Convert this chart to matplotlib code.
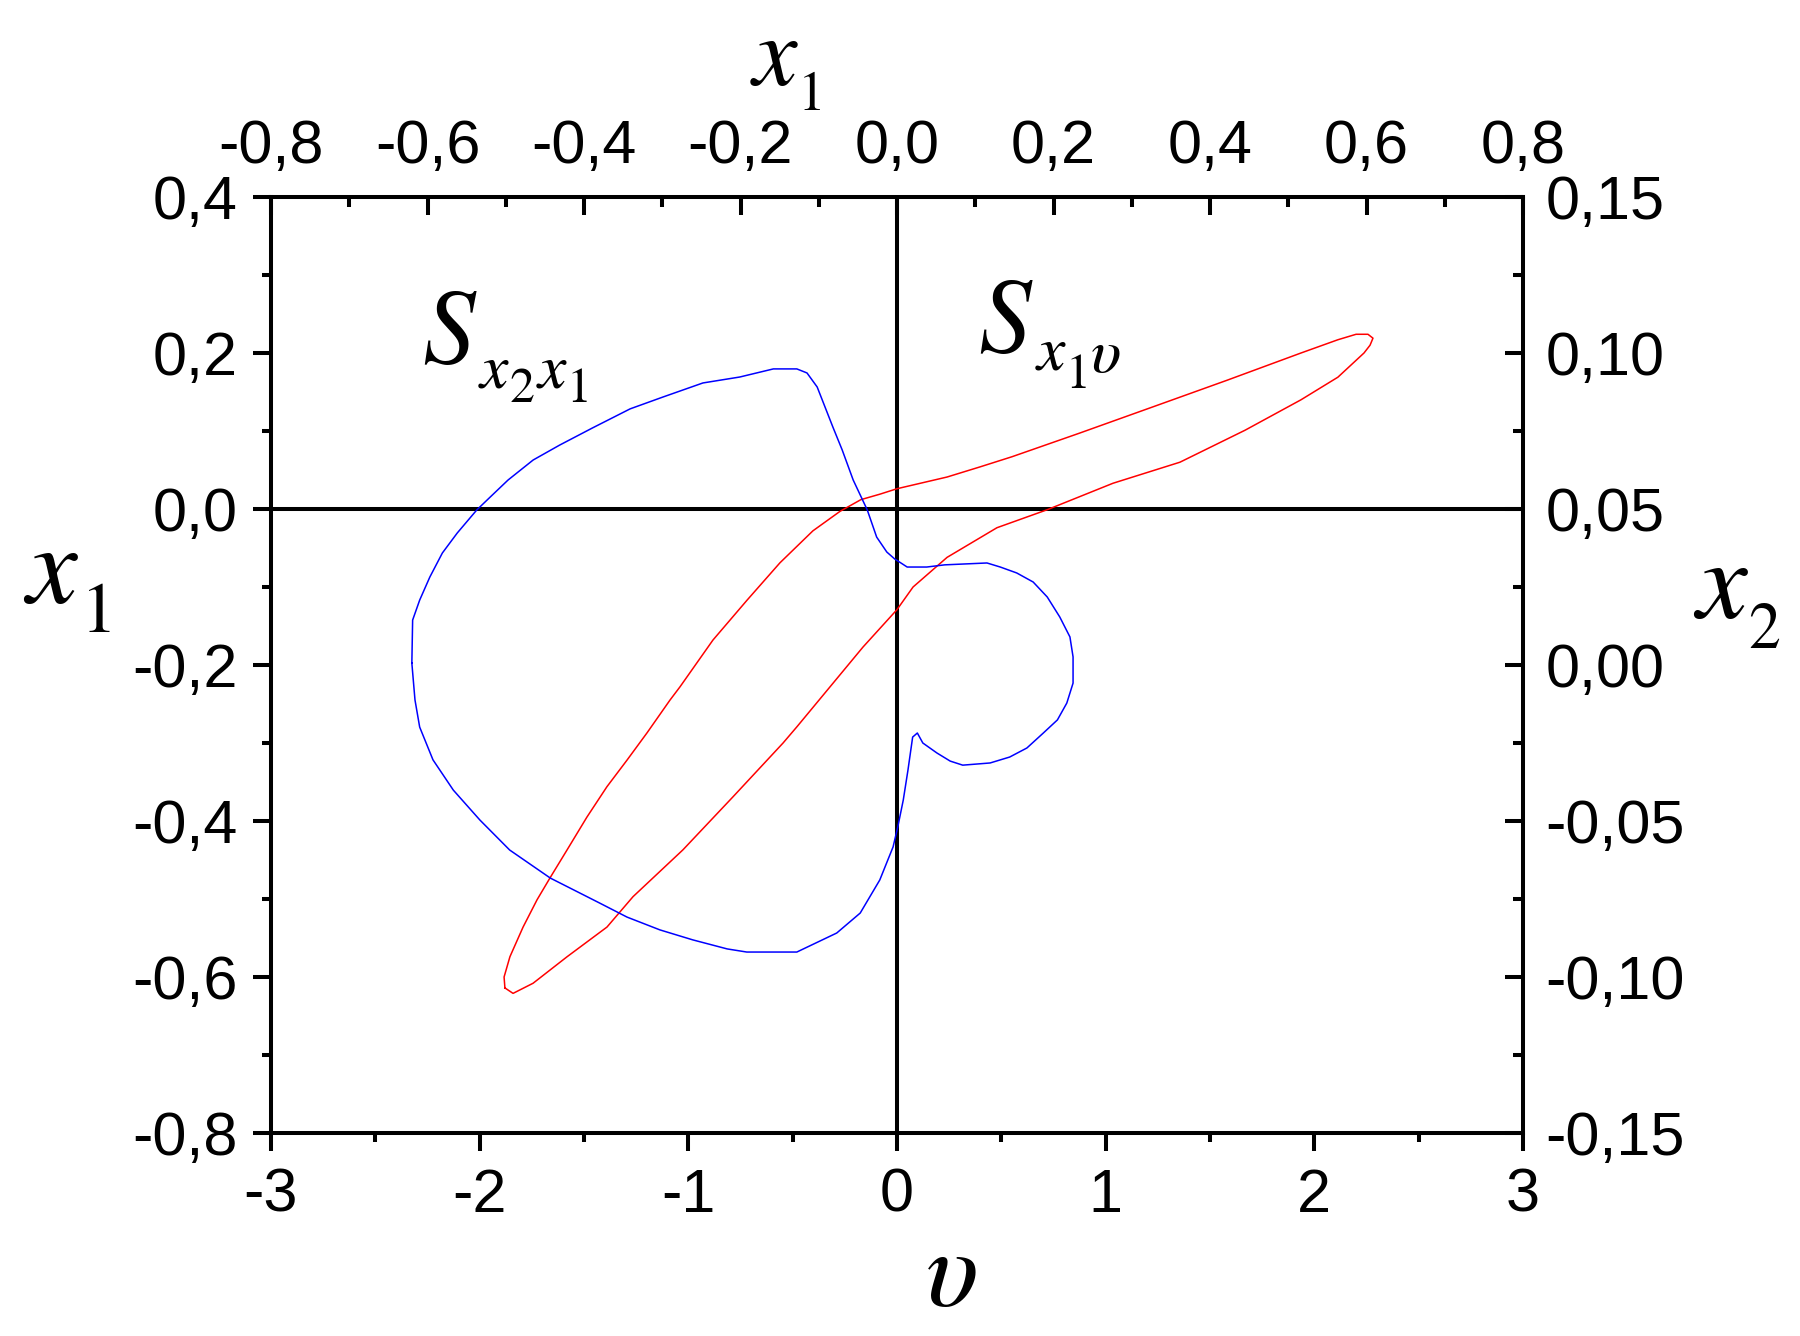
import matplotlib
matplotlib.use("Agg")
import matplotlib.pyplot as plt
from matplotlib.ticker import FixedLocator, FixedFormatter, MultipleLocator

plt.rcParams['font.family'] = ['Liberation Sans', 'DejaVu Sans']
plt.rcParams['mathtext.fontset'] = 'stix'

# ---------------- data ----------------
# Red curve S_{x1 v}: bottom axis v, left axis x1
red_v = [-1.879, -1.883, -1.855, -1.792, -1.725, -1.663, -1.581, -1.486, -1.390, -1.294,
         -1.198, -1.088, -1.040, -0.882, -0.719, -0.561, -0.403, -0.273, -0.173, -0.082,
         0.000, 0.240, 0.398, 0.551, 0.872, 1.227, 1.581, 1.936, 2.113, 2.200,
         2.257, 2.281, 2.267, 2.238, 2.113, 1.936, 1.668, 1.356, 1.035, 0.719,
         0.479, 0.240, 0.077, 0.000, -0.163, -0.321, -0.479, -0.546, -0.786, -1.026,
         -1.265, -1.390, -1.581, -1.744, -1.840, -1.879]
red_x1 = [-0.614, -0.600, -0.574, -0.536, -0.501, -0.473, -0.437, -0.395, -0.356, -0.322,
          -0.287, -0.245, -0.228, -0.168, -0.117, -0.069, -0.028, -0.003, 0.012, 0.019,
          0.026, 0.041, 0.054, 0.067, 0.097, 0.131, 0.165, 0.200, 0.217, 0.224,
          0.224, 0.219, 0.210, 0.200, 0.169, 0.140, 0.101, 0.060, 0.033, -0.001,
          -0.024, -0.062, -0.100, -0.129, -0.177, -0.228, -0.279, -0.300, -0.369, -0.437,
          -0.497, -0.536, -0.574, -0.608, -0.621, -0.614]

# Blue curve S_{x2 x1}: top axis x1, right axis x2
blue_x1 = [-0.620, -0.619, -0.610, -0.597, -0.581, -0.562, -0.537, -0.520, -0.497, -0.465,
           -0.431, -0.389, -0.341, -0.299, -0.248, -0.201, -0.158, -0.128, -0.115, -0.102,
           -0.082, -0.070, -0.056, -0.038, -0.026, -0.013, -0.003, 0.013, 0.038, 0.061,
           0.115, 0.132, 0.153, 0.174, 0.192, 0.208, 0.221, 0.225, 0.225, 0.217,
           0.205, 0.187, 0.166, 0.144, 0.119, 0.084, 0.068, 0.051, 0.033, 0.026,
           0.020, 0.014, 0.008, 0.001, -0.005, -0.022, -0.047, -0.077, -0.128, -0.192,
           -0.217, -0.261, -0.303, -0.345, -0.380, -0.443, -0.495, -0.533, -0.567, -0.593,
           -0.610, -0.616, -0.620]
blue_x2 = [0.0006, 0.0144, 0.0208, 0.0282, 0.0359, 0.0423, 0.0497, 0.0538, 0.0593, 0.0657,
           0.0705, 0.0760, 0.0821, 0.0859, 0.0904, 0.0923, 0.0949, 0.0949, 0.0936, 0.0891,
           0.0763, 0.0689, 0.0593, 0.0497, 0.0410, 0.0362, 0.0340, 0.0314, 0.0314, 0.0321,
           0.0327, 0.0314, 0.0295, 0.0266, 0.0218, 0.0154, 0.0090, 0.0026, -0.0058, -0.0122,
           -0.0176, -0.0218, -0.0266, -0.0295, -0.0314, -0.0321, -0.0308, -0.0282, -0.0250, -0.0218,
           -0.0231, -0.0337, -0.0433, -0.0519, -0.0583, -0.0689, -0.0795, -0.0859, -0.0920, -0.0920,
           -0.0910, -0.0881, -0.0849, -0.0808, -0.0763, -0.0683, -0.0593, -0.0497, -0.0401, -0.0304,
           -0.0199, -0.0112, 0.0006]

bottom_ticks = [-3, -2, -1, 0, 1, 2, 3]
bottom_labels = ['-3', '-2', '-1', '0', '1', '2', '3']
left_ticks = [-0.8, -0.6, -0.4, -0.2, 0.0, 0.2, 0.4]
left_labels = ['-0,8', '-0,6', '-0,4', '-0,2', '0,0', '0,2', '0,4']
top_ticks = [-0.8, -0.6, -0.4, -0.2, 0.0, 0.2, 0.4, 0.6, 0.8]
top_labels = ['-0,8', '-0,6', '-0,4', '-0,2', '0,0', '0,2', '0,4', '0,6', '0,8']
right_ticks = [-0.15, -0.10, -0.05, 0.00, 0.05, 0.10, 0.15]
right_labels = ['-0,15', '-0,10', '-0,05', '0,00', '0,05', '0,10', '0,15']

# ---------------- figure ----------------
W, H = 1800, 1336
fig = plt.figure(figsize=(W / 100, H / 100), dpi=100)
L, R, T, B = 271, 1523, 197, 1133
rect = [L / W, 1 - B / H, (R - L) / W, (B - T) / H]

LW = 2.9
TFS = 44

ax = fig.add_axes(rect)
axb = fig.add_axes(rect, frameon=False)

# main axes (red): bottom / left
ax.plot(red_v, red_x1, color='#ff0000', lw=1.1, zorder=3)
ax.axhline(0, color='black', lw=LW, zorder=2)
ax.axvline(0, color='black', lw=LW, zorder=2)
ax.set_xlim(-3, 3)
ax.set_ylim(-0.8, 0.4)
for s in ax.spines.values():
    s.set_linewidth(LW)
ax.xaxis.set_major_locator(FixedLocator(bottom_ticks))
ax.xaxis.set_major_formatter(FixedFormatter(bottom_labels))
ax.xaxis.set_minor_locator(MultipleLocator(0.5))
ax.yaxis.set_major_locator(FixedLocator(left_ticks))
ax.yaxis.set_major_formatter(FixedFormatter(left_labels))
ax.yaxis.set_minor_locator(MultipleLocator(0.1))
ax.tick_params(which='both', direction='out', width=LW, top=False, right=False, labelsize=TFS)
ax.tick_params(which='major', length=13)
ax.tick_params(which='minor', length=6.5)
ax.tick_params(axis='x', which='major', pad=12)
ax.tick_params(axis='y', which='major', pad=11)

# secondary axes (blue): top / right
axb.plot(blue_x1, blue_x2, color='#0000ff', lw=1.1, zorder=3)
axb.set_xlim(-0.8, 0.8)
axb.set_ylim(-0.15, 0.15)
axb.xaxis.tick_top()
axb.yaxis.tick_right()
axb.xaxis.set_major_locator(FixedLocator(top_ticks))
axb.xaxis.set_major_formatter(FixedFormatter(top_labels))
axb.xaxis.set_minor_locator(MultipleLocator(0.1))
axb.yaxis.set_major_locator(FixedLocator(right_ticks))
axb.yaxis.set_major_formatter(FixedFormatter(right_labels))
axb.yaxis.set_minor_locator(MultipleLocator(0.025))
axb.tick_params(which='both', direction='in', width=LW, bottom=False, left=False,
                top=True, right=True, labelsize=TFS)
axb.tick_params(which='major', length=13)
axb.tick_params(which='minor', length=7)
axb.tick_params(axis='x', which='major', pad=15)
axb.tick_params(axis='y', which='major', pad=16)
axb.patch.set_visible(False)


def put(x, y, s, size):
    fig.text(x / W, 1 - y / H, s, fontsize=size, ha='left', va='baseline')


# axis labels (letter + lowered subscript)
put(23, 603, r'$x$', 82)
put(80, 632, r'$1$', 52)
put(750, 85, r'$x$', 72)
put(797, 110, r'$1$', 40)
put(1693, 618, r'$x$', 82)
put(1748, 648, r'$2$', 46)
put(925, 1306, r'$\upsilon$', 80)

# curve annotations
put(422, 362, r'$S$', 76)
put(478, 387, r'$x$', 46)
put(509, 402, r'$2$', 36)
put(536, 387, r'$x$', 46)
put(566, 402, r'$1$', 36)

put(978, 351, r'$S$', 76)
put(1035, 370, r'$x$', 46)
put(1065, 388, r'$1$', 36)
put(1090, 372, r'$\upsilon$', 46)

fig.savefig('out.png', dpi=100)
